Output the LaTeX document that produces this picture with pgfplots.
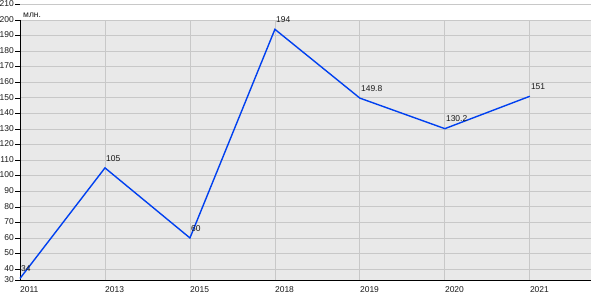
\documentclass[border=0pt]{standalone}
\usepackage{pgfplots}
\pgfplotsset{compat=1.18}
\usepackage{pgfplotstable}
\usepackage{fontspec}
\setmainfont{Liberation Sans}
\definecolor{bggrey}{RGB}{233,233,233}
\definecolor{gridgrey}{RGB}{200,200,200}
\definecolor{lineblue}{RGB}{0,64,240}
\definecolor{txt}{RGB}{25,25,25}
\pgfplotstableread{
x y label
0 34 34
1 105 105
2 60 60
3 194 194
4 149.8 149.8
5 130.2 130.2
6 151 151
}\datatable
\begin{document}
\begin{tikzpicture}
\begin{axis}[
  name=ax,
  scale only axis,
  width=571bp, height=275.6bp,
  xmin=0, xmax=6.72,
  ymin=33, ymax=210,
  axis lines*=left,
  axis line style={draw=none},
  xtick={0,1,2,3,4,5,6},
  xticklabels={2011,2013,2015,2018,2019,2020,2021},
  ytick={33,40,50,60,70,80,90,100,110,120,130,140,150,160,170,180,190,200,210},
  yticklabels={30,40,50,60,70,80,90,100,110,120,130,140,150,160,170,180,190,200,210},
  xtick style={draw=none},
  ytick style={black, line width=0.6bp},
  tick align=outside,
  major tick length=5bp,
  /pgf/number format/assume math mode=true,
  ticklabel style={font=\fontsize{8.5}{10}\selectfont, text=txt, inner sep=0pt},
  yticklabel style={anchor=south east, xshift=-1bp, yshift=-2.5bp},
  xticklabel style={anchor=north west, yshift=-1bp},
  clip=false,
]
\fill[bggrey] (axis cs:0,33) rectangle (axis cs:6.72,200);
\pgfplotsinvokeforeach{40,50,...,200}{
  \draw[gridgrey, line width=0.8bp] (axis cs:0,#1) -- (axis cs:6.72,#1);
}
\draw[gridgrey, line width=0.8bp] (axis cs:0,210) -- (axis cs:6.72,210);
\pgfplotsinvokeforeach{1,...,6}{
  \draw[gridgrey, line width=0.8bp] (axis cs:#1,33) -- (axis cs:#1,200);
}
\draw[black, line width=0.8bp] (axis cs:0,200) -- (axis cs:0,33) -- (axis cs:6.72,33);
\addplot[lineblue, line width=1.4bp, mark=none,
  nodes near coords,
  point meta=explicit symbolic,
  nodes near coords style={anchor=south west, inner sep=0pt, yshift=6bp, xshift=0.5bp,
    font=\fontsize{8.5}{10}\selectfont, text=txt}]
  table[x=x, y=y, meta=label] {\datatable};
\node[anchor=south west, inner sep=0pt, font=\fontsize{8.5}{10}\selectfont, text=txt]
  at (axis cs:0,200) [xshift=3bp, yshift=2bp] {млн.};
\end{axis}
\pgfresetboundingbox
\path ([shift={(-20bp,-20bp)}]ax.south west) rectangle ++(600bp,300bp);
\end{tikzpicture}
\end{document}
